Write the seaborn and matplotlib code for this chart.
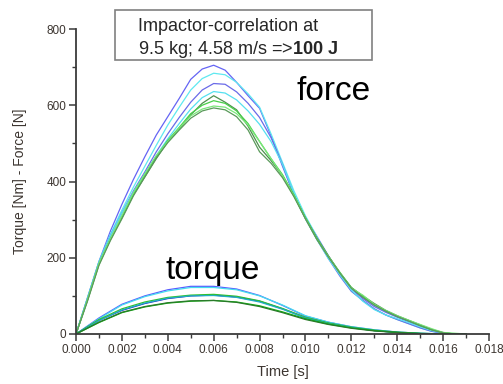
import matplotlib
matplotlib.use("Agg")
import matplotlib.pyplot as plt
from matplotlib.ticker import MultipleLocator, FormatStrFormatter
import seaborn as sns
import pandas as pd

# ---- data ----
t_force = [0.0, 0.0005, 0.001, 0.0015, 0.002, 0.0025, 0.003, 0.0035, 0.004, 0.0045,
           0.005, 0.0055, 0.006, 0.0065, 0.007, 0.0075, 0.008, 0.0085, 0.009, 0.0095,
           0.010, 0.0105, 0.011, 0.0115, 0.012, 0.0125, 0.013, 0.0135, 0.014, 0.0145,
           0.015, 0.0155, 0.016, 0.0165, 0.017]

force_b1 = [0, 95, 190, 270, 340, 405, 465, 522, 570, 618, 668, 695, 705, 692, 660, 625, 592,
            520, 440, 365, 305, 256, 205, 158, 118, 93, 72, 57, 44, 32, 20, 10, 3, 0, 0]
force_c1 = [0, 95, 190, 262, 325, 385, 440, 495, 548, 595, 640, 670, 684, 680, 660, 630, 595,
            525, 450, 375, 310, 255, 202, 155, 113, 88, 66, 50, 38, 27, 16, 7, 2, 0, 0]
force_b2 = [0, 93, 188, 258, 318, 375, 425, 478, 525, 568, 608, 640, 657, 655, 635, 605, 568,
            515, 445, 365, 302, 248, 198, 152, 112, 88, 66, 50, 38, 27, 16, 7, 2, 0, 0]
force_c2 = [0, 93, 188, 258, 318, 372, 420, 468, 512, 552, 590, 620, 636, 632, 614, 585, 550,
            505, 445, 368, 303, 248, 198, 155, 115, 86, 64, 50, 40, 30, 19, 9, 3, 0, 0]
force_g1 = [0, 88, 182, 248, 305, 365, 412, 460, 505, 538, 575, 605, 625, 608, 588, 545, 490,
            455, 415, 362, 305, 252, 205, 160, 122, 100, 80, 62, 48, 36, 24, 12, 4, 0, 0]
force_g2 = [0, 90, 185, 250, 308, 368, 418, 465, 508, 542, 578, 600, 612, 605, 585, 552, 505,
            460, 418, 365, 305, 250, 204, 162, 122, 98, 76, 60, 46, 35, 22, 11, 3, 0, 0]
force_g3 = [0, 90, 185, 250, 310, 370, 420, 468, 505, 540, 572, 590, 598, 595, 578, 548, 505,
            460, 415, 362, 303, 248, 203, 160, 120, 102, 78, 62, 48, 36, 25, 14, 4, 2, 0]
force_g4 = [0, 86, 180, 245, 302, 362, 412, 462, 502, 535, 566, 585, 593, 588, 570, 535, 478,
            448, 410, 360, 302, 248, 202, 160, 120, 96, 76, 60, 46, 34, 22, 11, 3, 0, 0]

t_torque = [0.0, 0.001, 0.002, 0.003, 0.004, 0.005, 0.006, 0.007, 0.008,
            0.009, 0.010, 0.011, 0.012, 0.013, 0.014, 0.015, 0.016, 0.017]

torque_1 = [0, 42, 78, 100, 116, 125, 125, 118, 101, 75, 47, 31, 19, 11, 5, 2, 0, 0]
torque_2 = [0, 40, 76, 98, 113, 122, 122, 116, 100, 76, 48, 31, 19, 11, 5, 2, 0, 0]
torque_3 = [0, 36, 62, 80, 93, 100, 102, 97, 86, 66, 43, 28, 17, 9, 4, 1, 0, 0]
torque_4 = [0, 38, 66, 84, 96, 102, 104, 99, 87, 67, 44, 29, 18, 10, 5, 2, 0, 0]
torque_5 = [0, 35, 63, 81, 94, 100, 101, 96, 84, 65, 42, 27, 17, 9, 4, 1, 0, 0]
torque_6 = [0, 30, 56, 71, 81, 86, 88, 84, 74, 58, 40, 26, 16, 9, 4, 1, 0, 0]
torque_7 = [0, 31, 57, 72, 82, 87, 88, 83, 72, 56, 38, 25, 15, 8, 4, 1, 0, 0]

force_series = {"F1": force_b1, "F2": force_c1, "F3": force_b2, "F4": force_c2,
                "F5": force_g1, "F6": force_g2, "F7": force_g3, "F8": force_g4}
torque_series = {"T1": torque_1, "T2": torque_2, "T3": torque_3, "T4": torque_4,
                 "T5": torque_5, "T6": torque_6, "T7": torque_7}

colors = {"F1": "#6464f4", "F2": "#5ee8f0", "F3": "#6a6ae8", "F4": "#55e0f0",
          "F5": "#4f8f4f", "F6": "#48d048", "F7": "#7ae87a", "F8": "#5a9a5a",
          "T1": "#5a5aff", "T2": "#45dcee", "T3": "#1a1acc", "T4": "#30c030",
          "T5": "#20b0c0", "T6": "#10b010", "T7": "#2a7a2a"}

rows = []
for name, vals in force_series.items():
    for t, v in zip(t_force, vals):
        rows.append({"t": t, "v": v, "s": name})
for name, vals in torque_series.items():
    for t, v in zip(t_torque, vals):
        rows.append({"t": t, "v": v, "s": name})
df = pd.DataFrame(rows)

# ---- plot ----
sns.set_style("ticks")
plt.rcParams["font.family"] = ["Liberation Sans", "DejaVu Sans"]
plt.rcParams["mathtext.fontset"] = "custom"
plt.rcParams["mathtext.rm"] = "Liberation Sans"
plt.rcParams["mathtext.bf"] = "Liberation Sans:bold"

fig = plt.figure(figsize=(5.03, 3.84), dpi=100)
ax = fig.add_axes([76 / 503, 50 / 384, 413 / 503, 305 / 384])

sns.lineplot(data=df, x="t", y="v", hue="s", units="s", estimator=None,
             palette=colors, legend=False, linewidth=0.9, ax=ax)

ax.set_xlim(0, 0.018)
ax.set_ylim(0, 800)
ax.xaxis.set_major_locator(MultipleLocator(0.002))
ax.xaxis.set_minor_locator(MultipleLocator(0.001))
ax.xaxis.set_major_formatter(FormatStrFormatter("%.3f"))
ax.yaxis.set_major_locator(MultipleLocator(200))
ax.yaxis.set_minor_locator(MultipleLocator(100))

spine_c = "#3a3a3a"
for side in ["top", "right"]:
    ax.spines[side].set_visible(False)
for side in ["left", "bottom"]:
    ax.spines[side].set_color(spine_c)
    ax.spines[side].set_linewidth(1.3)

ax.tick_params(which="major", direction="out", length=5, width=1.1, color=spine_c,
               labelsize=8.5, labelcolor="#3c3530", pad=2)
ax.tick_params(which="minor", direction="out", length=3, width=1.0, color=spine_c)

ax.set_xlabel("Time [s]", fontsize=10.5, color="#3c3530", labelpad=7)
ax.set_ylabel("Torque [Nm] - Force [N]", fontsize=10, color="#3c3530", labelpad=14)

ax.text(0.0096, 614, "force", fontsize=24, color="black", ha="left", va="baseline")
ax.text(0.0039, 143, "torque", fontsize=24, color="black", ha="left", va="baseline")

# annotation box
fig.patches.append(plt.Rectangle((115 / 503, 1 - 60 / 384), 257 / 503, 50 / 384,
                                 transform=fig.transFigure, facecolor="white",
                                 edgecolor="#808080", linewidth=1.2, zorder=5))
fig.text(138 / 503, 1 - 31 / 384, "Impactor-correlation at", fontsize=13,
         ha="left", va="baseline", zorder=6)
fig.text(138 / 503, 1 - 54 / 384,
         r"9.5 kg; 4.58 m/s =>$\mathbf{100\ J}$", fontsize=13,
         ha="left", va="baseline", zorder=6)

fig.savefig("out.png", dpi=100)
